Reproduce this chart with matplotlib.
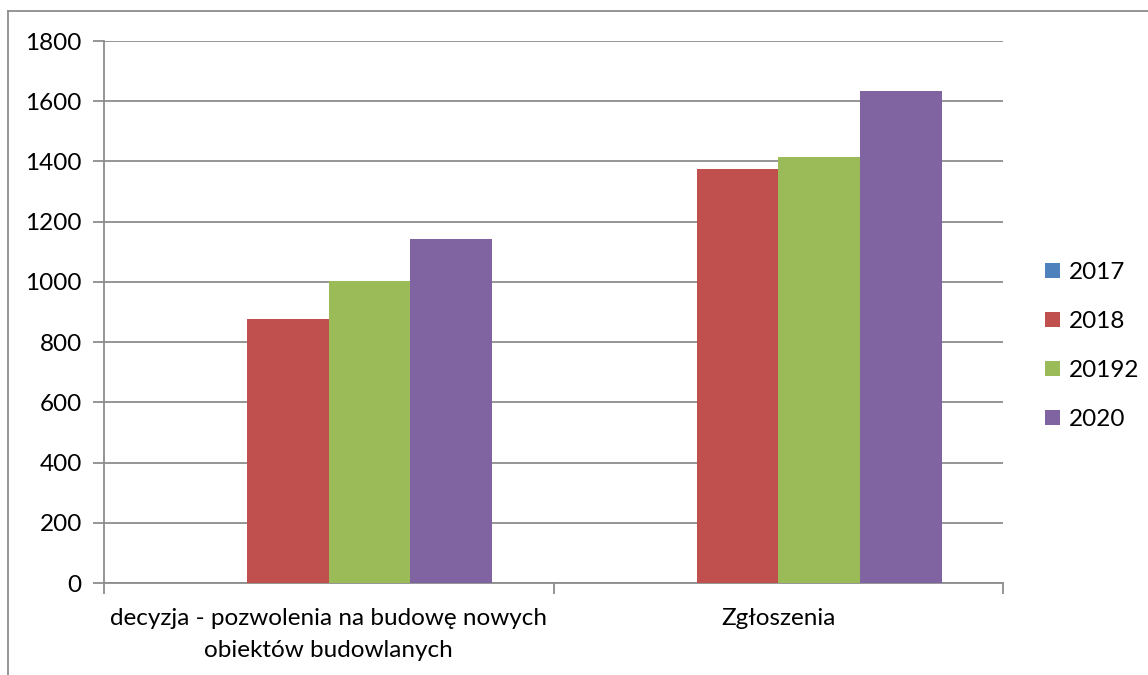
import matplotlib.pyplot as plt
import numpy as np
from matplotlib.lines import Line2D

plt.rcParams['font.family'] = ['Lato', 'DejaVu Sans']

categories = ['decyzja - pozwolenia na budowę nowych\nobiektów budowlanych', 'Zgłoszenia']
series = ['2017', '2018', '20192', '2020']
values = {
    '2017': [0, 0],
    '2018': [877, 1374],
    '20192': [1004, 1414],
    '2020': [1143, 1633],
}
colors = ['#4F81BD', '#C0504D', '#9BBB59', '#8064A2']

fig = plt.figure(figsize=(11.48, 6.75), dpi=100)
ax = fig.add_axes([104 / 1148, 1 - 583 / 675, (1003 - 104) / 1148, (583 - 41) / 675])

# excel style: gap width 150%
gap = 1.5
bw = 1 / (len(series) + gap)
x = np.arange(len(categories))
for i, s in enumerate(series):
    pos = x - 0.5 + bw * gap / 2 + bw * (i + 0.5)
    ax.bar(pos, values[s], width=bw, color=colors[i], label=s, zorder=3,
           edgecolor='none')

ax.set_xlim(-0.5, len(categories) - 0.5)
ax.set_ylim(0, 1800)
ax.set_yticks(np.arange(0, 1801, 200))
ax.yaxis.grid(True, color='#8c8c8c', linewidth=1.3)
ax.set_axisbelow(True)

for sp in ['top', 'right']:
    ax.spines[sp].set_visible(False)
for sp in ['left', 'bottom']:
    ax.spines[sp].set_color('#8c8c8c')
    ax.spines[sp].set_linewidth(1.3)

ax.set_xticks(np.arange(-0.5, len(categories)), minor=False)
ax.set_xticklabels([''] * (len(categories) + 1))
ax.set_xticks(x, minor=True)
ax.set_xticklabels(categories, minor=True, fontsize=17.5, linespacing=1.65)
ax.tick_params(axis='x', which='major', length=8, color='#8c8c8c', width=1.3)
ax.tick_params(axis='x', which='minor', length=0, pad=18)
ax.tick_params(axis='y', length=8, color='#8c8c8c', width=1.3, labelsize=17.5, pad=8)

ax.legend(loc='center left', bbox_to_anchor=(1045 / 1148, 1 - 346 / 675),
          bbox_transform=fig.transFigure, frameon=False, borderpad=0,
          borderaxespad=0, fontsize=17.5, handlelength=0.6, handleheight=0.6,
          labelspacing=1.15, handletextpad=0.4)

# chart border (left and top only visible)
fig.add_artist(Line2D([8 / 1148, 8 / 1148], [0, 1 - 11 / 675], color='#8c8c8c', lw=1.3))
fig.add_artist(Line2D([8 / 1148, 1], [1 - 11 / 675, 1 - 11 / 675], color='#8c8c8c', lw=1.3))

fig.savefig('out.png', dpi=100)
